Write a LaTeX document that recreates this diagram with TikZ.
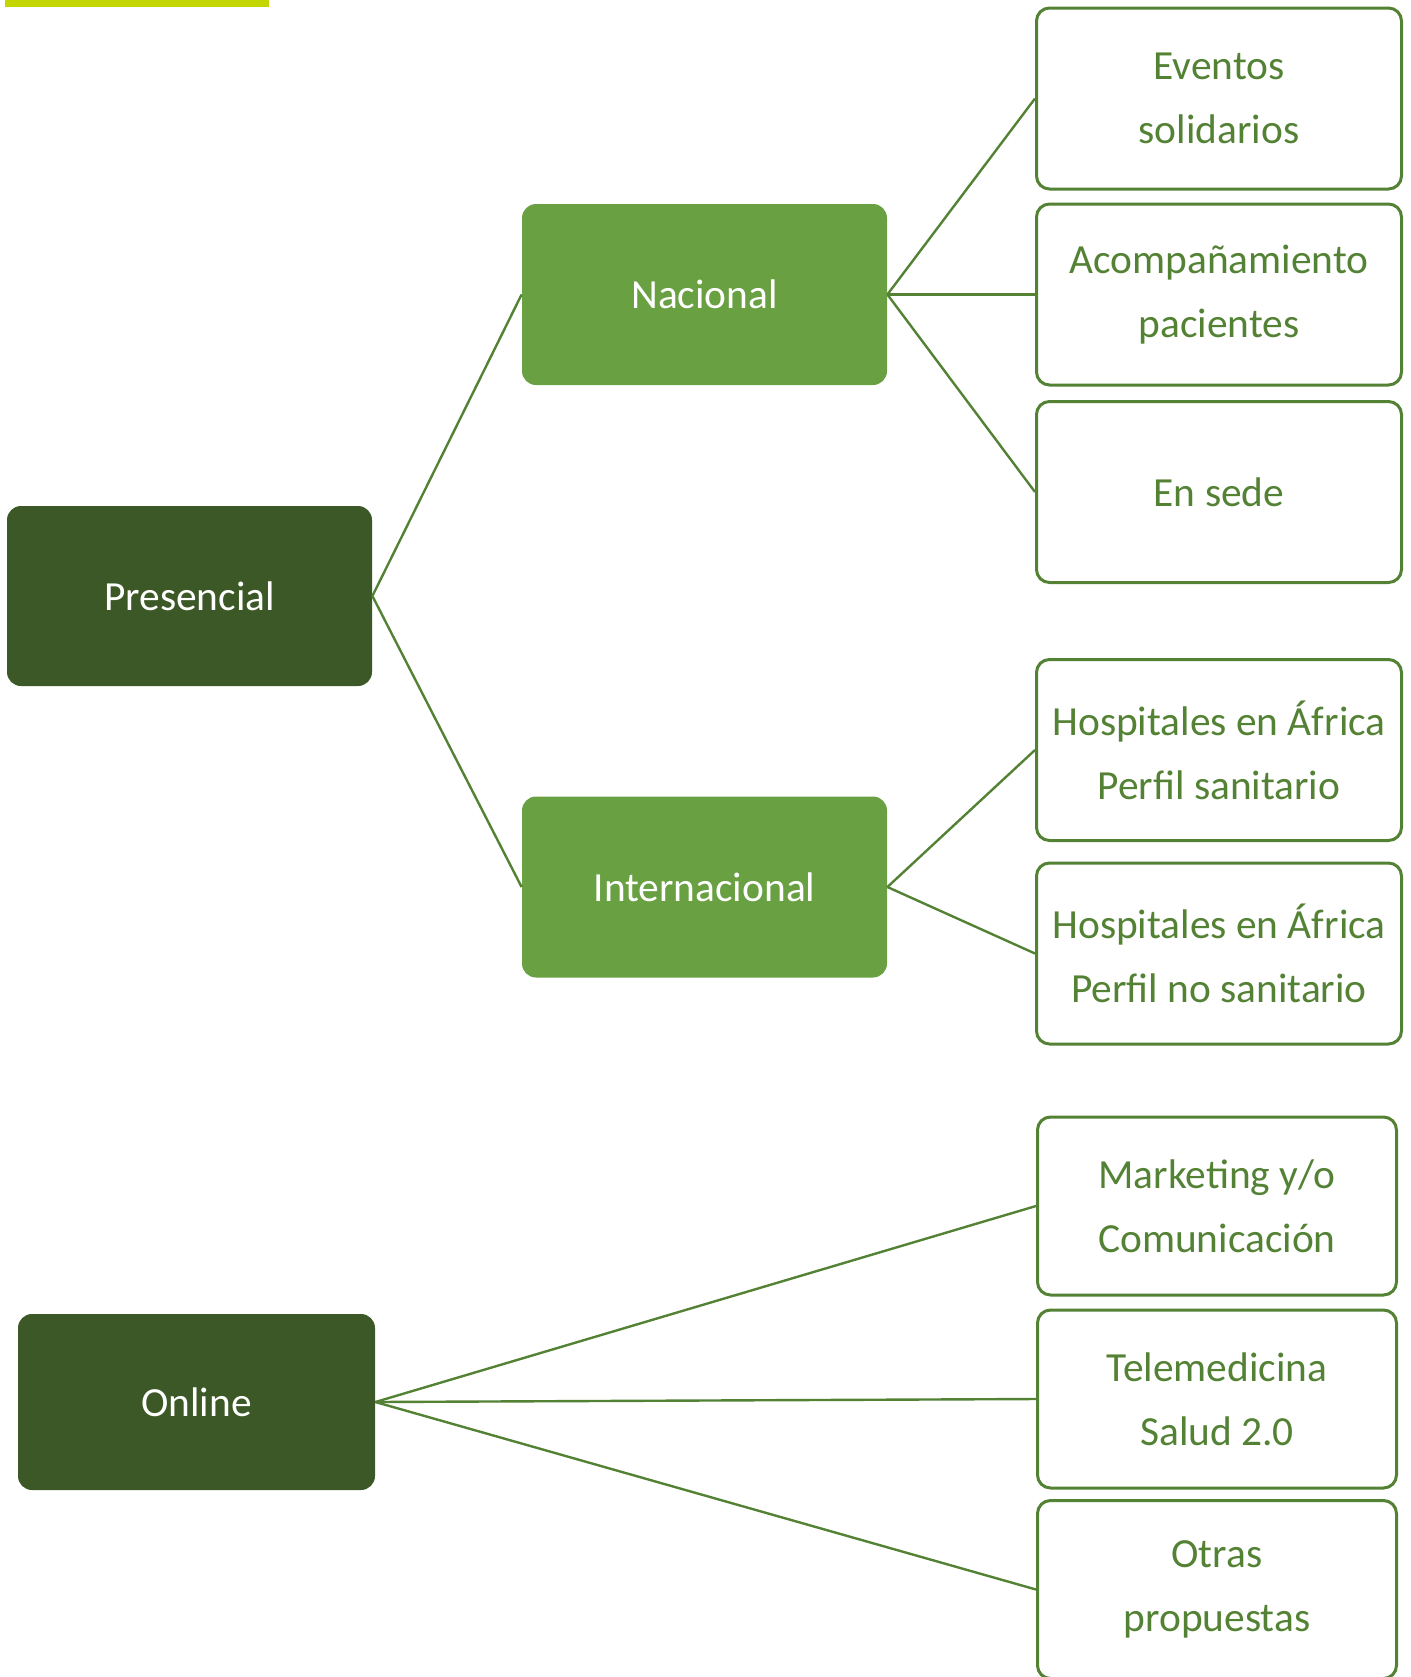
\documentclass[tikz,border=0pt]{standalone}
\usepackage{fontspec}
\setmainfont{Carlito}
\definecolor{lima}{HTML}{C4D600}
\definecolor{darkgreen}{HTML}{3B5826}
\definecolor{midgreen}{HTML}{68A042}
\definecolor{linegreen}{HTML}{548235}

\begin{document}
\begin{tikzpicture}[x=0.5pt,y=-0.5pt,
    txt/.style={font=\fontsize{20.7}{32}\selectfont,align=center,inner sep=0pt},
    main/.style={txt,fill=darkgreen,text=white,rounded corners=7pt,minimum width=182.5pt,minimum height=90pt},
    sub/.style={txt,fill=midgreen,text=white,rounded corners=7pt,minimum width=182.5pt,minimum height=90.5pt},
    leaf/.style={txt,draw=linegreen,line width=1.5pt,text=linegreen,fill=white,rounded corners=6.5pt,minimum width=182.5pt,minimum height=90.5pt},
    conn/.style={draw=linegreen,line width=1.2pt}]
            \useasboundingbox (0,0) rectangle (1411,1677);
            \fill[lima] (5,0) rectangle (269,7);
            \node[main] (pres) at (189.5,596) {Presencial};
            \node[main,minimum width=178.5pt,minimum height=88pt] (onl) at (196.5,1402) {Online};
            \node[sub] (nac) at (704.5,294.5) {Nacional};
            \node[sub] (intl) at (704.5,887) {Internacional};
            \node[leaf] (eve) at (1219,98.5) {Eventos\\solidarios};
            \node[leaf] (aco) at (1219,294.5) {Acompañamiento\\pacientes};
            \node[leaf] (sede) at (1219,492) {En sede};
            \node[leaf] (hosp1) at (1219,750) {Hospitales en África\\Perfil sanitario};
            \node[leaf] (hosp2) at (1219,953.5) {Hospitales en África\\Perfil no sanitario};
            \node[leaf,minimum width=179.5pt,minimum height=89pt] (mkt) at (1217,1206) {Marketing y/o\\Comunicación};
            \node[leaf,minimum width=179.5pt,minimum height=89pt] (tele) at (1217,1399) {Telemedicina\\Salud 2.0};
            \node[leaf,minimum width=179.5pt,minimum height=89pt] (otras) at (1217,1589.5) {Otras\\propuestas};
            \draw[conn] (pres.east) -- (nac.west);
            \draw[conn] (pres.east) -- (intl.west);
            \draw[conn] (nac.east) -- (eve.west);
            \draw[conn] (nac.east) -- (aco.west);
            \draw[conn] (nac.east) -- (sede.west);
            \draw[conn] (intl.east) -- (hosp1.west);
            \draw[conn] (intl.east) -- (hosp2.west);
            \draw[conn] (onl.east) -- (mkt.west);
            \draw[conn] (onl.east) -- (tele.west);
            \draw[conn] (onl.east) -- (otras.west);
\end{tikzpicture}
\end{document}
